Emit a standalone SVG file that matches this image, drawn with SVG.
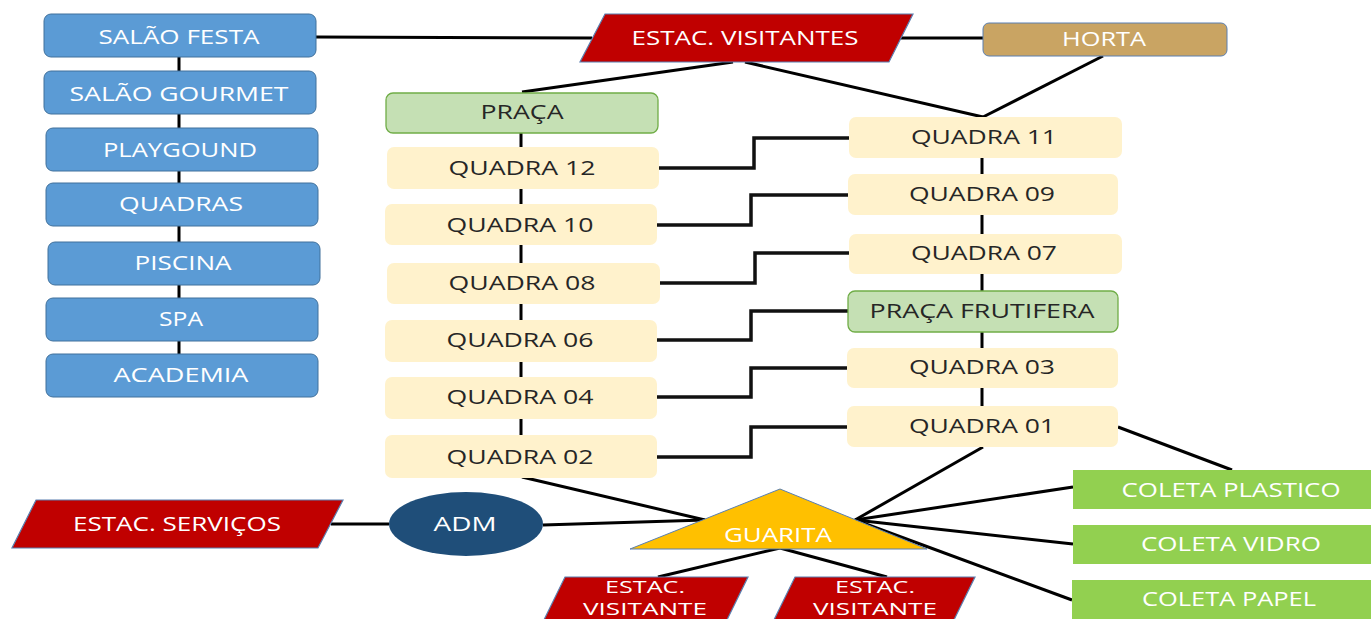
<svg xmlns="http://www.w3.org/2000/svg" width="1371" height="619" viewBox="0 0 1371 619">
<style>
text{font-family:"Open Sans","Liberation Sans",sans-serif;font-size:19.5px;text-anchor:middle}
.sm{font-size:16px}
.blue{fill:#5B9BD5;stroke:#41719C;stroke-width:1}
.q{fill:#FFF2CC}
.green{fill:#C5E0B4;stroke:#70AD47;stroke-width:1.3}
.red{fill:#C00000;stroke:#5B7FB0;stroke-width:1.2}
.col{fill:#92D050}
.w{fill:#FFFFFF}
.d{fill:#262626}
.ln{stroke:#000;stroke-width:3;fill:none}
.ln2{stroke:#111;stroke-width:3.5;fill:none}
</style>
<rect width="1371" height="619" fill="#fff"/>
<g id="connectors">
<line class="ln" x1="179" y1="57" x2="179" y2="355"/>
<line class="ln" x1="316" y1="37" x2="592" y2="38"/>
<line class="ln" x1="898" y1="38" x2="983" y2="38"/>
<line class="ln" x1="733" y1="62" x2="522" y2="92"/>
<line class="ln" x1="745" y1="62" x2="983" y2="117"/>
<line class="ln" x1="1103" y1="56" x2="983" y2="117"/>
<line class="ln" x1="521" y1="133" x2="521" y2="436"/>
<line class="ln" x1="982" y1="158" x2="982" y2="406"/>
<polyline class="ln2" points="659,168 754,168 754,138 850,138"/>
<polyline class="ln2" points="657,225 751,225 751,195 848,195"/>
<polyline class="ln2" points="660,283 755,283 755,253 849,253"/>
<polyline class="ln2" points="657,340 751,340 751,311 848,311"/>
<polyline class="ln2" points="657,397 751,397 751,368 848,368"/>
<polyline class="ln2" points="657,457 751,457 751,427 848,427"/>
<line class="ln" x1="522" y1="477" x2="705" y2="520"/>
<line class="ln" x1="543" y1="525" x2="705" y2="520"/>
<line class="ln" x1="331" y1="524" x2="389" y2="524"/>
<line class="ln" x1="983" y1="447" x2="855" y2="520"/>
<line class="ln" x1="855" y1="520" x2="1073" y2="487"/>
<line class="ln" x1="855" y1="520" x2="1073" y2="544"/>
<line class="ln" x1="855" y1="520" x2="1072" y2="600"/>
<line class="ln" x1="1118" y1="427" x2="1232" y2="470"/>
<line class="ln" x1="780" y1="548" x2="658" y2="577"/>
<line class="ln" x1="780" y1="548" x2="887" y2="577"/>
</g>
<g id="salao-festa"><rect class="blue" x="44" y="14" width="272" height="43" rx="7"/><text class="w" x="179" y="44" textLength="161" lengthAdjust="spacingAndGlyphs">SALÃO FESTA</text></g>
<g id="salao-gourmet"><rect class="blue" x="44" y="71" width="272" height="43" rx="7"/><text class="w" x="179" y="101" textLength="219" lengthAdjust="spacingAndGlyphs">SALÃO GOURMET</text></g>
<g id="playgound"><rect class="blue" x="46" y="128" width="272" height="43" rx="7"/><text class="w" x="180" y="157" textLength="154" lengthAdjust="spacingAndGlyphs">PLAYGOUND</text></g>
<g id="quadras"><rect class="blue" x="46" y="183" width="272" height="43" rx="7"/><text class="w" x="181" y="211" textLength="124" lengthAdjust="spacingAndGlyphs">QUADRAS</text></g>
<g id="piscina"><rect class="blue" x="48" y="242" width="272" height="43" rx="7"/><text class="w" x="183" y="270" textLength="97" lengthAdjust="spacingAndGlyphs">PISCINA</text></g>
<g id="spa"><rect class="blue" x="46" y="298" width="272" height="43" rx="7"/><text class="w" x="181" y="326" textLength="44" lengthAdjust="spacingAndGlyphs">SPA</text></g>
<g id="academia"><rect class="blue" x="46" y="354" width="272" height="43" rx="7"/><text class="w" x="181" y="382" textLength="135" lengthAdjust="spacingAndGlyphs">ACADEMIA</text></g>
<g id="estac-visitantes"><polygon class="red" points="605,14 913,14 889,62 580,62"/><text class="w" x="745" y="45" textLength="227" lengthAdjust="spacingAndGlyphs">ESTAC. VISITANTES</text></g>
<g id="horta"><rect x="983" y="23" width="244" height="33" rx="6" fill="#C9A463" stroke="#5B7FB0" stroke-width="1"/><text class="w" x="1104" y="46" textLength="84" lengthAdjust="spacingAndGlyphs">HORTA</text></g>
<g id="praca"><rect class="green" x="386" y="93" width="272" height="40" rx="7"/><text class="d" x="522" y="119" textLength="83" lengthAdjust="spacingAndGlyphs">PRAÇA</text></g>
<g id="quadra-12"><rect class="q" x="387" y="147" width="272" height="42" rx="7"/><text class="d" x="522" y="175" textLength="147" lengthAdjust="spacingAndGlyphs">QUADRA 12</text></g>
<g id="quadra-10"><rect class="q" x="385" y="204" width="272" height="41" rx="7"/><text class="d" x="520" y="232" textLength="147" lengthAdjust="spacingAndGlyphs">QUADRA 10</text></g>
<g id="quadra-08"><rect class="q" x="387" y="263" width="273" height="41" rx="7"/><text class="d" x="522" y="290" textLength="147" lengthAdjust="spacingAndGlyphs">QUADRA 08</text></g>
<g id="quadra-06"><rect class="q" x="385" y="320" width="272" height="42" rx="7"/><text class="d" x="520" y="347" textLength="147" lengthAdjust="spacingAndGlyphs">QUADRA 06</text></g>
<g id="quadra-04"><rect class="q" x="385" y="377" width="272" height="42" rx="7"/><text class="d" x="520" y="404" textLength="147" lengthAdjust="spacingAndGlyphs">QUADRA 04</text></g>
<g id="quadra-02"><rect class="q" x="385" y="435" width="272" height="43" rx="7"/><text class="d" x="520" y="464" textLength="147" lengthAdjust="spacingAndGlyphs">QUADRA 02</text></g>
<g id="quadra-11"><rect class="q" x="849" y="117" width="273" height="41" rx="7"/><text class="d" x="984" y="144" textLength="146" lengthAdjust="spacingAndGlyphs">QUADRA 11</text></g>
<g id="quadra-09"><rect class="q" x="848" y="174" width="270" height="41" rx="7"/><text class="d" x="982" y="201" textLength="146" lengthAdjust="spacingAndGlyphs">QUADRA 09</text></g>
<g id="quadra-07"><rect class="q" x="849" y="234" width="273" height="40" rx="7"/><text class="d" x="984" y="260" textLength="146" lengthAdjust="spacingAndGlyphs">QUADRA 07</text></g>
<g id="praca-frutifera"><rect class="green" x="848" y="291" width="270" height="41" rx="7"/><text class="d" x="982" y="318" textLength="225" lengthAdjust="spacingAndGlyphs">PRAÇA FRUTIFERA</text></g>
<g id="quadra-03"><rect class="q" x="847" y="348" width="271" height="40" rx="7"/><text class="d" x="982" y="374" textLength="146" lengthAdjust="spacingAndGlyphs">QUADRA 03</text></g>
<g id="quadra-01"><rect class="q" x="847" y="406" width="271" height="41" rx="7"/><text class="d" x="982" y="433" textLength="146" lengthAdjust="spacingAndGlyphs">QUADRA 01</text></g>
<g id="estac-servicos"><polygon class="red" points="36,500 343,500 318,548 12,548"/><text class="w" x="177" y="531" textLength="208" lengthAdjust="spacingAndGlyphs">ESTAC. SERVIÇOS</text></g>
<g id="adm"><ellipse cx="466" cy="524" rx="77" ry="32" fill="#1F4E79"/><text class="w" x="465" y="531" textLength="63" lengthAdjust="spacingAndGlyphs">ADM</text></g>
<g id="guarita"><polygon points="780,489 927,549 630,549" fill="#FFC000" stroke="#5B7FB0" stroke-width="1"/><text class="w" x="778" y="542" textLength="108" lengthAdjust="spacingAndGlyphs">GUARITA</text></g>
<g id="estac-visitante-1"><polygon class="red" points="565,577 748,577 722,630 539,630"/><text class="w sm" x="645" y="593" textLength="80" lengthAdjust="spacingAndGlyphs">ESTAC.</text><text class="w sm" x="645" y="615" textLength="124" lengthAdjust="spacingAndGlyphs">VISITANTE</text></g>
<g id="estac-visitante-2"><polygon class="red" points="795,577 975,577 949,630 769,630"/><text class="w sm" x="875" y="593" textLength="80" lengthAdjust="spacingAndGlyphs">ESTAC.</text><text class="w sm" x="875" y="615" textLength="124" lengthAdjust="spacingAndGlyphs">VISITANTE</text></g>
<g id="coleta-plastico"><rect class="col" x="1073" y="470" width="300" height="39"/><text class="w" x="1231" y="497" textLength="219" lengthAdjust="spacingAndGlyphs">COLETA PLASTICO</text></g>
<g id="coleta-vidro"><rect class="col" x="1073" y="525" width="300" height="39"/><text class="w" x="1231" y="551" textLength="180" lengthAdjust="spacingAndGlyphs">COLETA VIDRO</text></g>
<g id="coleta-papel"><rect class="col" x="1072" y="580" width="300" height="42"/><text class="w" x="1229" y="606" textLength="174" lengthAdjust="spacingAndGlyphs">COLETA PAPEL</text></g>
</svg>
